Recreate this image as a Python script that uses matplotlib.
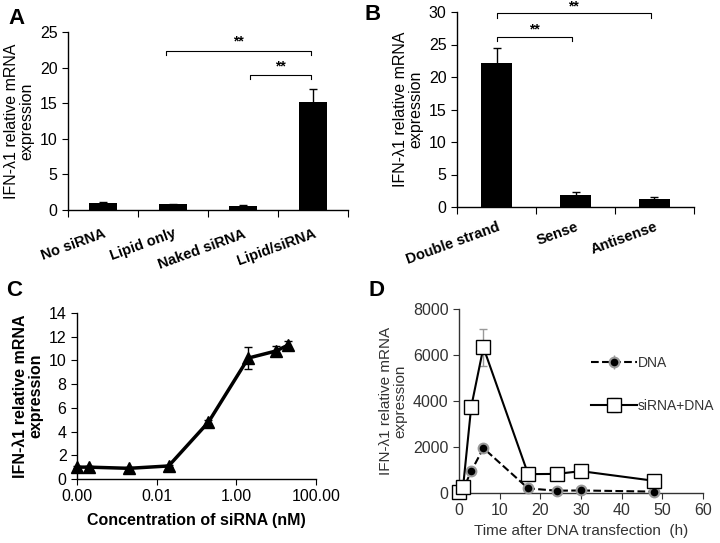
import matplotlib
matplotlib.use("Agg")
import matplotlib.pyplot as plt
import numpy as np

plt.rcParams['font.family'] = ['Liberation Sans', 'DejaVu Sans']
plt.rcParams['font.size'] = 10

# ---- data ----
a_labels = ["No siRNA", "Lipid only", "Naked siRNA", "Lipid/siRNA"]
a_vals = [1.0, 0.8, 0.55, 15.2]
a_err = [0.1, 0.1, 0.1, 1.8]

b_labels = ["Double strand", "Sense", "Antisense"]
b_vals = [22.1, 1.9, 1.2]
b_err = [2.3, 0.35, 0.3]

c_conc = [0.0001, 0.0002, 0.002, 0.02, 0.2, 2.0, 10.0, 20.0]
c_vals = [1.0, 1.0, 0.9, 1.1, 4.8, 10.2, 10.8, 11.3]
c_err = [0.1, 0.1, 0.1, 0.1, 0.2, 0.9, 0.4, 0.3]

d_time = [0, 1, 3, 6, 17, 24, 30, 48]
d_dna = [20, 150, 950, 1950, 200, 100, 110, 60]
d_dna_err = [10, 30, 150, 100, 50, 20, 20, 10]
d_sidna = [50, 260, 3740, 6330, 820, 830, 950, 530]
d_sidna_err = [10, 40, 250, 800, 80, 60, 80, 50]

ylab = "IFN-\u03bb1 relative mRNA\nexpression"
W, H = 720, 543


def px_axes(fig, left, top, right, bottom):
    return fig.add_axes([left / W, 1 - bottom / H, (right - left) / W, (bottom - top) / H])


def style(ax, color='black'):
    for s in ['top', 'right']:
        ax.spines[s].set_visible(False)
    for s in ['left', 'bottom']:
        ax.spines[s].set_color(color)
        ax.spines[s].set_linewidth(1.0)
    ax.tick_params(direction='out', colors=color, labelsize=11.5, length=4)


def bar_panel(ax, labels, vals, err, pad):
    n = len(labels)
    x = np.arange(n)
    ax.bar(x, vals, width=0.4, color='black', yerr=err, capsize=3,
           error_kw=dict(elinewidth=1, capthick=1, ecolor='black'))
    ax.set_xlim(-0.5, n - 0.5)
    ax.set_xticks(np.arange(n + 1) - 0.5)
    ax.set_xticklabels([])
    ax.set_xticks(x, minor=True)
    ax.set_xticklabels(labels, minor=True, rotation=20, fontweight='bold', fontsize=10.5,
                       ha='right', va='top', rotation_mode='anchor')
    ax.tick_params(axis='x', which='minor', length=0, pad=pad)
    ax.tick_params(axis='x', which='major', length=5)


def bracket(ax, x0, x1, y, drop, text, ty):
    ax.plot([x0, x0, x1, x1], [y - drop, y, y, y - drop], color='black', lw=0.8, clip_on=False)
    ax.text((x0 + x1) / 2, ty, text, ha='center', va='center', fontsize=10, fontweight='bold')


fig = plt.figure(figsize=(7.2, 5.43), dpi=100)

# A
axA = px_axes(fig, 68, 32, 348, 210)
style(axA)
bar_panel(axA, a_labels, a_vals, a_err, pad=12)
axA.set_ylim(0, 25)
axA.set_yticks(range(0, 26, 5))
axA.set_ylabel(ylab, fontsize=11.5, linespacing=1.0)
bracket(axA, 0.9, 2.97, 22.4, 0.6, "**", 23.6)
bracket(axA, 2.1, 2.97, 19.0, 0.6, "**", 20.2)
fig.text(8 / W, 1 - 18 / H, "A", fontsize=16, fontweight='bold', va='center')

# B
axB = px_axes(fig, 457, 12, 694, 207)
style(axB)
bar_panel(axB, b_labels, b_vals, b_err, pad=9)
axB.set_ylim(0, 30)
axB.set_yticks(range(0, 31, 5))
axB.set_ylabel(ylab, fontsize=11.5, linespacing=1.0)
bracket(axB, 0.0, 1.95, 29.8, 0.7, "**", 30.9)
bracket(axB, 0.0, 0.95, 26.1, 0.6, "**", 27.3)
fig.text(364 / W, 1 - 14 / H, "B", fontsize=16, fontweight='bold', va='center')

# C
axC = px_axes(fig, 77, 313, 316, 479)
style(axC)
axC.errorbar(c_conc, c_vals, yerr=c_err, color='black', lw=2.5, marker='^',
             markersize=9, capsize=3, elinewidth=1, capthick=1, clip_on=False)
axC.set_xscale('log')
axC.set_xlim(1e-4, 1e2)
axC.set_xticks([1e-4, 1e-2, 1, 1e2])
axC.set_xticklabels(["0.00", "0.01", "1.00", "100.00"])
axC.minorticks_off()
axC.set_ylim(0, 14)
axC.set_yticks(range(0, 15, 2))
axC.set_ylabel(ylab, fontsize=11.5, fontweight='bold', linespacing=1.0)
axC.set_xlabel("Concentration of siRNA (nM)", fontsize=11.5, fontweight='bold', labelpad=6)
fig.text(6 / W, 1 - 290 / H, "C", fontsize=16, fontweight='bold', va='center')

# D
grey = '#333333'
axD = px_axes(fig, 459, 309, 703, 493)
style(axD, grey)
axD.errorbar(d_time, d_dna, yerr=d_dna_err, color='black', ls='--', lw=1.5,
             marker='o', markersize=7, markeredgecolor='#999999', markeredgewidth=1.5,
             ecolor='#999999', elinewidth=1, capsize=0, label='DNA', clip_on=False, zorder=3)
axD.errorbar(d_time, d_sidna, yerr=d_sidna_err, color='black', ls='-', lw=1.5,
             marker='s', markersize=10, markerfacecolor='white', markeredgecolor='black',
             ecolor='#999999', elinewidth=1, capsize=3, label='siRNA+DNA', clip_on=False, zorder=4)
axD.set_xlim(0, 60)
axD.set_xticks(range(0, 61, 10))
axD.set_ylim(0, 8000)
axD.set_yticks(range(0, 8001, 2000))
axD.set_ylabel(ylab, fontsize=11, color=grey, linespacing=1.0)
axD.set_xlabel("Time after DNA transfection  (h)", fontsize=11, color=grey)
leg = axD.legend(frameon=False, loc='upper left', bbox_to_anchor=(0.54, 0.745),
                 fontsize=10, handlelength=3.3, labelspacing=2.1, handletextpad=0.1,
                 borderpad=0, borderaxespad=0)
for t in leg.get_texts():
    t.set_color(grey)
fig.text(368 / W, 1 - 290 / H, "D", fontsize=16, fontweight='bold', va='center')

fig.savefig("out.png", dpi=100)
